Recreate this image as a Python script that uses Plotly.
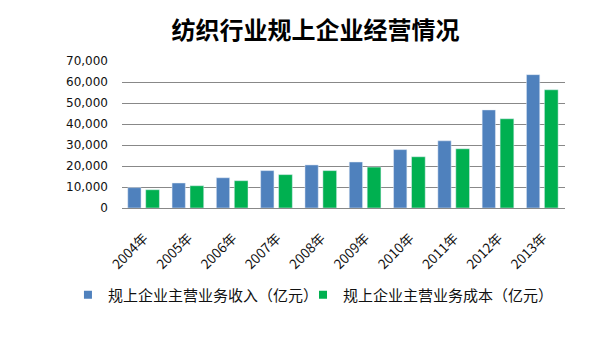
import plotly.graph_objects as go

years = ["2004年", "2005年", "2006年", "2007年", "2008年", "2009年", "2010年", "2011年", "2012年", "2013年"]
revenue = [9700, 11900, 14400, 17800, 20500, 21900, 27800, 32000, 46700, 63500]
cost = [8700, 10600, 13000, 15900, 17800, 19500, 24400, 28200, 42500, 56300]
name_rev = "规上企业主营业务收入（亿元）"
name_cost = "规上企业主营业务成本（亿元）"
title = "纺织行业规上企业经营情况"
yticks = [0, 10000, 20000, 30000, 40000, 50000, 60000, 70000]

BLUE = "#4F81BD"
GREEN = "#00B050"
CJK = "Noto Sans CJK SC, DejaVu Sans, sans-serif"

fig = go.Figure()
fig.add_trace(go.Bar(x=years, y=revenue, name=name_rev, marker_color=BLUE,
                     width=0.30, offset=-0.37, showlegend=False))
fig.add_trace(go.Bar(x=years, y=cost, name=name_cost, marker_color=GREEN,
                     width=0.31, offset=0.035, showlegend=False))
# legend entries
fig.add_trace(go.Scatter(x=[None], y=[None], mode="markers", name=name_rev, legend="legend",
                         marker=dict(symbol="square", size=8, color=BLUE)))
fig.add_trace(go.Scatter(x=[None], y=[None], mode="markers", name=name_cost, legend="legend2",
                         marker=dict(symbol="square", size=8, color=GREEN)))

leg_common = dict(orientation="h", yanchor="middle", y=-0.592, xanchor="left",
                  font=dict(family=CJK, size=15, color="#111"),
                  itemwidth=30, bgcolor="rgba(0,0,0,0)")

fig.update_layout(
    width=601, height=357,
    margin=dict(l=114, r=44, t=53, b=157, autoexpand=False),
    paper_bgcolor="white", plot_bgcolor="white",
    barmode="overlay",
    title=dict(text="<b>" + title + "</b>", x=0.5116, xanchor="center", y=0.938, yanchor="middle",
               font=dict(family=CJK, size=24, color="#000")),
    font=dict(family=CJK, color="#111"),
    xaxis=dict(type="category", tickangle=-45, showgrid=False, automargin=False,
               showline=True, linecolor="#888", linewidth=1,
               ticks="", ticklabelstandoff=16,
               tickfont=dict(family=CJK, size=13.5, color="#111"),
               range=[-0.5, 9.5]),
    yaxis=dict(range=[0, 70000], tickvals=yticks, tickformat=",d", automargin=False,
               showgrid=True, gridcolor="#888", gridwidth=1,
               zeroline=False, showline=False, ticks="", ticklabelstandoff=13,
               tickfont=dict(family="DejaVu Sans", size=12, color="#111")),
    legend=dict(x=-0.122, **leg_common),
    legend2=dict(x=0.4086, **leg_common),
)

fig.write_html("out.html")
